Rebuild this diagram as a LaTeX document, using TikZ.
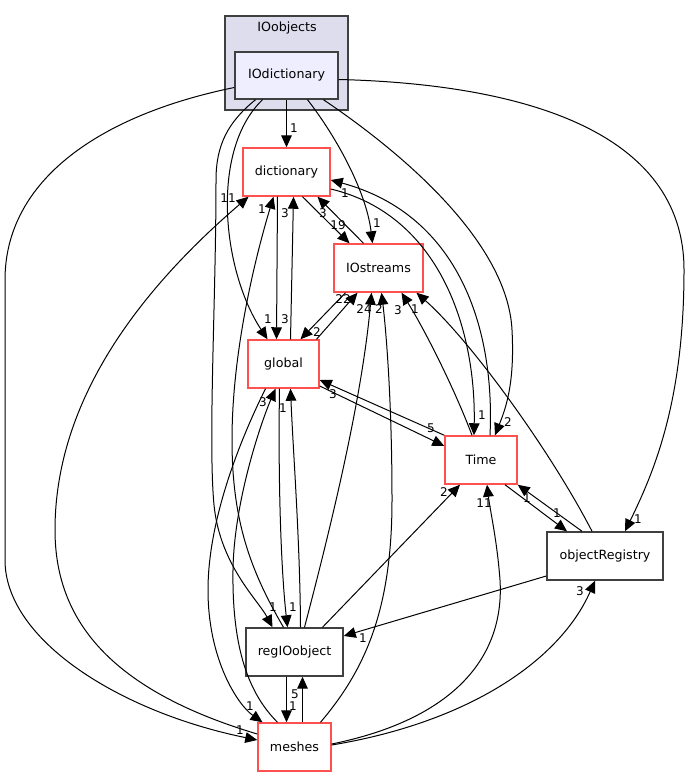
\documentclass[tikz,border=0pt]{standalone}
\usepackage{fontspec}
\setmainfont{DejaVu Sans}
\usetikzlibrary{arrows.meta,calc}
\definecolor{dirred}{RGB}{255,80,80}
\definecolor{dirgray}{RGB}{64,64,64}
\definecolor{clusterfill}{RGB}{221,221,238}
\definecolor{iofill}{RGB}{238,238,255}
\begin{document}
\begin{tikzpicture}[x=0.75pt,y=-0.75pt,
  dir/.style={draw=dirred,line width=1.1pt,fill=white,minimum height=36pt,inner sep=0pt,font=\fontsize{9.5}{11}\selectfont},
  leaf/.style={dir,draw=dirgray},
  dep/.style={-{Triangle[length=9pt,width=8pt]},line width=0.75pt},
  num/.style={font=\fontsize{9}{10}\selectfont,inner sep=0pt}]
\useasboundingbox (0,0) rectangle (691,777);

% cluster
\node[draw=dirgray,line width=1.1pt,fill=clusterfill,minimum width=92.25pt,minimum height=70.5pt] (IOobjects) at (286.5,63) {};
\node[font=\fontsize{9.5}{11}\selectfont] (IOobjectsname) at (287,28) {IOobjects};

\node[leaf,fill=iofill,minimum width=77.25pt,minimum height=35.25pt] (IOdictionary) at (286.5,75.5) {IOdictionary};
\node[dir,minimum width=65.25pt] (dictionary) at (286.5,172) {dictionary};
\node[dir,minimum width=66.75pt] (IOstreams) at (378.5,268) {IOstreams};
\node[dir,minimum width=53.25pt] (global) at (283.5,364) {global};
\node[dir,minimum width=54pt] (Time) at (481,460) {Time};
\node[leaf,minimum width=87pt] (objectRegistry) at (605,556) {objectRegistry};
\node[leaf,minimum width=72.75pt] (regIOobject) at (294.5,652) {regIOobject};
\node[dir,minimum width=54.75pt] (meshes) at (294.5,747) {meshes};

% IOdictionary
\draw[dep] (IOdictionary.south) -- (dictionary.north) node[num] (l1) at (294,128) {1};
\draw[dep] ($(IOdictionary.south)+(-24,0)$) .. controls (210,150) and (222,270) .. ($(global.north)+(-16,0)$) node[num] (l2) at (268,319) {1};
\draw[dep] ($(IOdictionary.south)+(-31,0)$) .. controls (228,122) and (216,145) .. (216,180)
  .. controls (216,300) and (208,440) .. (214,505) .. controls (220,565) and (258,600) .. ($(regIOobject.north)+(-22,0)$) node[num] (l3) at (273,607) {1};
\draw[dep] ($(IOdictionary.south)+(21,0)$) .. controls (335,135) and (366,190) .. ($(IOstreams.north)+(-6,0)$) node[num] (l4) at (377,223) {1};
\draw[dep] ($(IOdictionary.south)+(37,0)$) .. controls (420,165) and (508,250) .. (512,330)
  .. controls (515,385) and (505,410) .. ($(Time.north)+(14,0)$) node[num] (l5) at (508,422) {2};
\draw[dep] ($(IOdictionary.east)+(0,4)$) .. controls (520,84) and (684,130) .. (684,270)
  .. controls (684,400) and (655,470) .. ($(objectRegistry.north)+(20,0)$) node[num] (l6) at (638,519) {1};
\draw[dep] ($(IOdictionary.west)+(0,12)$) .. controls (100,115) and (5,180) .. (5,280) -- (5,560)
  .. controls (5,640) and (120,712) .. ($(meshes.west)+(0,-7)$) node[num] (l7) at (240,730) {1};

% dictionary
\draw[dep] ($(dictionary.south)+(16,0)$) -- ($(IOstreams.north)+(-29,0)$) node[num] (l8) at (338,225) {19};
\draw[dep] ($(dictionary.south)+(-9,0)$) -- ($(global.north)+(-7,0)$) node[num] (l10) at (285,319) {3};
\draw[dep] ($(dictionary.east)+(0,17)$) .. controls (440,215) and (476,330) .. ($(Time.north)+(-7,0)$) node[num] (l12) at (482,415) {1};

% IOstreams
\draw[dep] ($(IOstreams.north)+(-15,0)$) -- ($(dictionary.south)+(31,0)$) node[num] (l9) at (323,213) {3};
\draw[dep] ($(IOstreams.south)+(-33,0)$) -- ($(global.north)+(17,0)$) node[num] (l15) at (317,332) {2};

% global
\draw[dep] ($(global.north)+(7,0)$) -- ($(dictionary.south)+(7,0)$) node[num] (l11) at (285,213) {3};
\draw[dep] ($(global.north)+(33,0)$) -- ($(IOstreams.south)+(-21,0)$) node[num] (l14) at (343,299) {22};
\draw[dep] ($(global.east)+(0,22)$) -- ($(Time.west)+(0,-14)$) node[num] (l16) at (431,428) {5};
\draw[dep] ($(global.south)+(-4,0)$) .. controls (278,480) and (281,570) .. ($(regIOobject.north)+(-7,0)$) node[num] (l32) at (293,607) {1};
\draw[dep] ($(global.south)+(-18,0)$) .. controls (240,440) and (208,520) .. (208,590)
  .. controls (208,660) and (238,705) .. ($(meshes.north)+(-32,0)$) node[num] (l33) at (250,706) {1};

% Time
\draw[dep] ($(Time.north)+(9,0)$) .. controls (495,330) and (460,215) .. ($(dictionary.east)+(0,8)$) node[num] (l13) at (345,193) {1};
\draw[dep] (Time.north west) -- ($(global.east)+(0,16)$) node[num] (l17) at (333,394) {3};
\draw[dep] ($(Time.north)+(-9,0)$) .. controls (455,390) and (425,330) .. ($(IOstreams.south)+(23,0)$) node[num] (l18) at (398,310) {3};
\draw[dep] ($(Time.south)+(24,0)$) -- ($(objectRegistry.north)+(-38,0)$) node[num] (l20) at (557,513) {1};

% objectRegistry
\draw[dep] ($(objectRegistry.north)+(-13,0)$) .. controls (550,450) and (470,340) .. ($(IOstreams.south)+(38,0)$) node[num] (l19) at (415,309) {1};
\draw[dep] ($(objectRegistry.north)+(-23,0)$) -- (Time.south east) node[num] (l21) at (527,498) {1};
\draw[dep] ($(objectRegistry.west)+(0,20)$) -- ($(regIOobject.east)+(0,-16)$) node[num] (l22) at (363,638) {1};

% regIOobject
\draw[dep] ($(regIOobject.north)+(28,0)$) -- ($(Time.south)+(-21,0)$) node[num] (l23) at (444,492) {2};
\draw[dep] ($(regIOobject.north)+(10,0)$) .. controls (330,530) and (362,400) .. ($(IOstreams.south)+(-7,0)$) node[num] (l24) at (364,309) {24};
\draw[dep] ($(regIOobject.south)+(-8,0)$) -- ($(meshes.north)+(-8,0)$) node[num] (l29) at (293,706) {1};
\draw[dep] ($(regIOobject.north)+(-11,0)$) .. controls (250,570) and (232,520) .. (232,440)
  .. controls (232,350) and (256,255) .. ($(dictionary.south)+(-13,0)$) node[num] (l30) at (262,209) {1};
\draw[dep] ($(regIOobject.north)+(6,0)$) .. controls (300,540) and (293,450) .. ($(global.south)+(7,0)$) node[num] (l31) at (283,408) {1};

% meshes
\draw[dep] ($(meshes.north)+(26,0)$) .. controls (365,670) and (392,610) .. (392,500)
  .. controls (392,400) and (386,330) .. ($(IOstreams.south)+(3,0)$) node[num] (l25) at (379,309) {2};
\draw[dep] ($(meshes.east)+(0,-3)$) .. controls (450,720) and (505,660) .. (500,580)
  .. controls (497,540) and (490,510) .. ($(Time.south)+(6,0)$) node[num] (l26) at (484,503) {11};
\draw[dep] ($(meshes.east)+(0,-2)$) .. controls (470,722) and (560,660) .. ($(objectRegistry.south)+(-10,0)$) node[num] (l27) at (580,591) {3};
\draw[dep] ($(meshes.north)+(8,0)$) -- ($(regIOobject.south)+(8,0)$) node[num] (l28) at (295,694) {5};
\draw[dep] ($(meshes.north)+(-17,0)$) .. controls (245,690) and (232,640) .. (233,570)
  .. controls (234,500) and (262,420) .. ($(global.south)+(-8,0)$) node[num] (l34) at (263,402) {3};
\draw[dep] ($(meshes.west)+(0,-13)$) .. controls (110,690) and (55,620) .. (55,530)
  .. controls (55,400) and (140,290) .. ($(dictionary.south)+(-38,0)$) node[num] (l35) at (228,198) {11};
\end{tikzpicture}
\end{document}
